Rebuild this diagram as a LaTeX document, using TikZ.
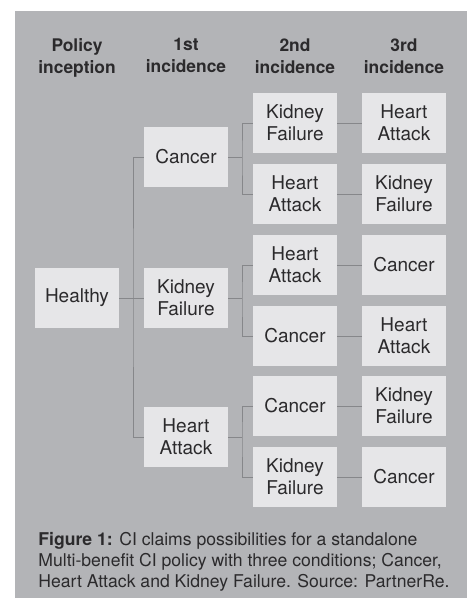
\documentclass[tikz,border=0pt]{standalone}
\usepackage{fontspec}
\setmainfont{TeX Gyre Heros}
\usepackage{xcolor}
\usetikzlibrary{math}
\definecolor{panelgrey}{HTML}{B3B4B7}
\definecolor{boxgrey}{HTML}{E6E6E8}
\definecolor{linegrey}{HTML}{86878A}
\definecolor{inkgrey}{HTML}{2B2A2C}

\tikzset{
  state/.style={fill=boxgrey, text=inkgrey, minimum width=42pt, minimum height=30pt,
    inner sep=0pt, align=center, font=\fontsize{9.5}{11}\selectfont},
  head/.style={anchor=north, text=inkgrey, align=center, inner sep=0pt,
    font=\fontsize{8.7}{11}\selectfont\bfseries},
  link/.style={draw=linegrey, line width=0.5pt}
}

\begin{document}
\begin{tikzpicture}[x=0.5pt, y=-0.5pt]
      \tikzmath{\ca = 77; \cb = 186; \cc = 295; \cd = 404; \ja = 133; \jb = 242;}
      \useasboundingbox (0,0) rectangle (471,601);
      \fill[panelgrey] (15,11) rectangle (467,598);
      % column heads
      \node[head] (hd0) at (\ca,38) {Policy\\inception};
      \node[head] (hd1) at (\cb,38) {1st\\incidence};
      \node[head] (hd2) at (\cc,38) {2nd\\incidence};
      \node[head] (hd3) at (\cd,38) {3rd\\incidence};
      % inception and 1st incidence
      \node[state] (healthy) at (\ca,298) {Healthy};
      \node[state] (c1) at (\cb,157) {Cancer};
      \node[state] (k1) at (\cb,298) {Kidney\\Failure};
      \node[state] (h1) at (\cb,437) {Heart\\Attack};
      % 2nd incidence
      \node[state] (c1k) at (\cc,123) {Kidney\\Failure};
      \node[state] (c1h) at (\cc,194) {Heart\\Attack};
      \node[state] (k1h) at (\cc,265) {Heart\\Attack};
      \node[state] (k1c) at (\cc,336) {Cancer};
      \node[state] (h1c) at (\cc,406) {Cancer};
      \node[state] (h1k) at (\cc,477) {Kidney\\Failure};
      % 3rd incidence
      \node[state] (c1kh) at (\cd,123) {Heart\\Attack};
      \node[state] (c1hk) at (\cd,194) {Kidney\\Failure};
      \node[state] (k1hc) at (\cd,265) {Cancer};
      \node[state] (k1ch) at (\cd,336) {Heart\\Attack};
      \node[state] (h1ck) at (\cd,406) {Kidney\\Failure};
      \node[state] (h1kc) at (\cd,477) {Cancer};
      % branch points
      \coordinate (j0) at (\ja,298);
      \coordinate (jc) at (\jb,157);
      \coordinate (jk) at (\jb,298);
      \coordinate (jh) at (\jb,437);
      \draw[link] (healthy.east) -- (k1.west);
      \draw[link] (c1.west) -| (j0) |- (h1.west);
      \draw[link] (c1.east) -- (jc);
      \draw[link] (c1k.west) -| (jc) |- (c1h.west);
      \draw[link] (k1.east) -- (jk);
      \draw[link] (k1h.west) -| (jk) |- (k1c.west);
      \draw[link] (h1.east) -- (jh);
      \draw[link] (h1c.west) -| (jh) |- (h1k.west);
      \foreach \a/\b in {c1k/c1kh, c1h/c1hk, k1h/k1hc, k1c/k1ch, h1c/h1ck, h1k/h1kc}
        \draw[link] (\a) -- (\b);
      % caption
      \node[anchor=north west, align=left, inner sep=0pt, text=inkgrey,
        font=\fontsize{8.8}{10.6}\selectfont] (cap) at (38,532)
        {\textbf{Figure 1:} CI claims possibilities for a standalone\\
         Multi-benefit CI policy with three conditions; Cancer,\\
         Heart Attack and Kidney Failure. Source: PartnerRe.};
    \end{tikzpicture}
\end{document}
